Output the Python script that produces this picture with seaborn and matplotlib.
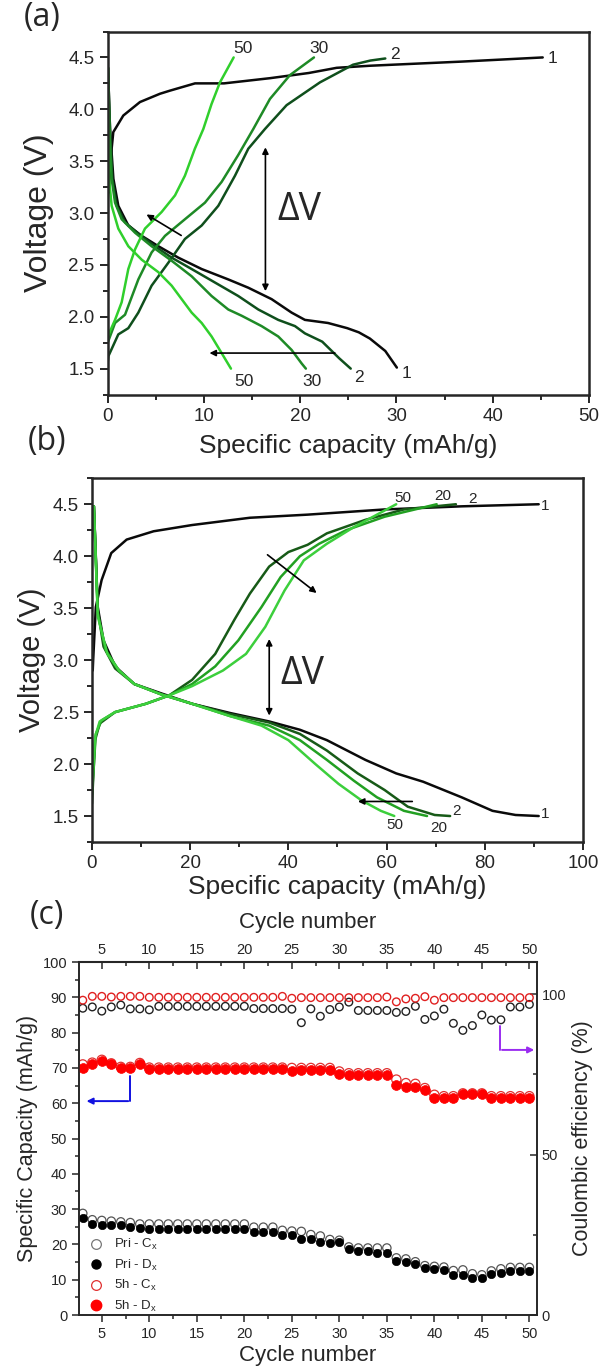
import matplotlib
matplotlib.use("Agg")
import matplotlib.pyplot as plt
import seaborn as sns
from matplotlib.ticker import MultipleLocator
from matplotlib.lines import Line2D

# ---------------------------
# Data: panel (a), charge / discharge curves (capacity mAh/g, voltage V)
# ---------------------------
A1_CH_X = [0.15, 0.3, 0.6, 1.64, 3.37, 5.45, 6.49, 9.09, 12.1, 16.87, 20.9, 23.8, 27.26, 36.8, 45.2]
A1_CH_Y = [3.2, 3.5, 3.78, 3.94, 4.07, 4.15, 4.18, 4.25, 4.25, 4.30, 4.35, 4.40, 4.42, 4.46, 4.50]
A1_DC_X = [0.05, 0.26, 0.61, 1.12, 2.16, 3.55, 5.28, 7.35, 9.78, 12.54, 14.62, 17.04, 19.12, 20.5,
           22.9, 24.9, 26.1, 27.25, 28.85, 30.05]
A1_DC_Y = [4.40, 3.81, 3.33, 3.07, 2.88, 2.78, 2.68, 2.57, 2.46, 2.36, 2.28, 2.17, 2.04, 1.97,
           1.94, 1.89, 1.85, 1.79, 1.67, 1.51]

A2_CH_X = [0.0, 0.09, 1.12, 2.16, 3.2, 4.58, 6.31, 8.04, 9.78, 11.51, 13.24, 14.62, 16.35, 18.6,
           22.07, 25.5, 27.3, 28.85]
A2_CH_Y = [1.54, 1.62, 1.83, 1.89, 2.04, 2.30, 2.52, 2.75, 2.88, 3.07, 3.36, 3.62, 3.81, 4.04,
           4.26, 4.43, 4.47, 4.49]
A2_DC_X = [0.05, 0.26, 0.5, 0.95, 1.82, 3.2, 4.93, 6.66, 8.74, 11.16, 13.58, 15.66, 17.73, 19.47,
           20.5, 22.3, 24.06, 25.26]
A2_DC_Y = [4.40, 3.81, 3.33, 3.07, 2.91, 2.80, 2.68, 2.57, 2.46, 2.33, 2.20, 2.07, 1.97, 1.91,
           1.84, 1.76, 1.60, 1.50]

A30_CH_X = [0.0, 0.02, 0.78, 1.82, 3.2, 4.58, 5.97, 8.04, 10.12, 11.85, 13.58, 15.14, 16.87,
            18.95, 21.44]
A30_CH_Y = [1.67, 1.75, 1.94, 2.02, 2.36, 2.62, 2.78, 2.94, 3.10, 3.30, 3.56, 3.81, 4.10, 4.33,
            4.50]
A30_DC_X = [0.05, 0.2, 0.43, 0.78, 1.47, 2.86, 4.58, 6.66, 8.74, 10.81, 12.54, 13.93, 16.0, 17.73,
            19.12, 20.16, 20.6]
A30_DC_Y = [4.40, 3.81, 3.33, 3.10, 2.94, 2.81, 2.68, 2.54, 2.39, 2.20, 2.07, 2.01, 1.91, 1.81,
            1.68, 1.55, 1.50]

A50_CH_X = [0.0, 0.02, 0.78, 1.47, 2.16, 2.86, 3.89, 5.62, 7.01, 8.04, 9.07, 9.95, 10.8, 11.68,
            13.1]
A50_CH_Y = [1.73, 1.81, 1.97, 2.14, 2.46, 2.65, 2.85, 3.01, 3.17, 3.36, 3.62, 3.81, 4.05, 4.26,
            4.50]
A50_DC_X = [0.05, 0.1, 0.16, 0.43, 1.12, 2.16, 3.55, 5.28, 6.66, 7.7, 8.74, 9.78, 10.81, 11.85,
            12.82]
A50_DC_Y = [4.40, 3.81, 3.33, 3.07, 2.85, 2.68, 2.55, 2.43, 2.30, 2.17, 2.04, 1.94, 1.81, 1.65,
            1.50]

# ---------------------------
# Data: panel (b)
# ---------------------------
B1_CH_X = [0.15, 0.24, 0.78, 1.96, 3.92, 7.06, 12.55, 20.39, 32.16, 43.92, 59.61, 75.29, 90.98]
B1_CH_Y = [2.9, 3.00, 3.51, 3.77, 4.03, 4.16, 4.24, 4.30, 4.37, 4.40, 4.45, 4.48, 4.50]
B1_DC_X = [0.39, 1.18, 2.35, 4.71, 8.63, 14.12, 20.39, 28.24, 36.08, 42.35, 47.84, 55.69, 61.96,
           67.45, 75.29, 81.57, 86.27, 90.98]
B1_DC_Y = [4.48, 3.51, 3.19, 2.94, 2.77, 2.68, 2.58, 2.49, 2.41, 2.33, 2.23, 2.04, 1.91, 1.83,
           1.68, 1.55, 1.51, 1.50]

B2_CH_X = [0.0, 0.63, 1.57, 4.71, 10.98, 15.69, 20.39, 25.10, 29.02, 32.16, 36.08, 40.0, 43.92,
           47.84, 55.69, 63.53, 74.12]
B2_CH_Y = [1.62, 2.23, 2.39, 2.50, 2.58, 2.66, 2.81, 3.06, 3.39, 3.64, 3.90, 4.04, 4.11, 4.22,
           4.35, 4.45, 4.50]
B2_DC_X = [0.39, 1.18, 2.35, 4.71, 8.63, 14.12, 20.39, 28.24, 36.08, 42.35, 47.84, 54.12, 59.61,
           64.31, 69.80, 72.94]
B2_DC_Y = [4.48, 3.48, 3.13, 2.92, 2.77, 2.67, 2.58, 2.48, 2.40, 2.29, 2.13, 1.91, 1.75, 1.59,
           1.51, 1.50]

B20_CH_X = [0.0, 0.78, 1.96, 4.71, 10.98, 15.69, 20.39, 25.10, 29.80, 34.51, 38.43, 42.35, 46.27,
            51.76, 59.61, 70.20]
B20_CH_Y = [1.71, 2.29, 2.42, 2.50, 2.58, 2.66, 2.77, 2.94, 3.19, 3.51, 3.80, 4.00, 4.12, 4.25,
            4.38, 4.50]
B20_DC_X = [0.39, 1.18, 2.75, 5.49, 8.63, 14.12, 20.39, 28.24, 36.08, 42.35, 47.84, 53.33, 58.04,
            63.53, 68.24]
B20_DC_Y = [4.48, 3.45, 3.10, 2.90, 2.77, 2.67, 2.58, 2.46, 2.37, 2.23, 2.04, 1.84, 1.68, 1.55,
            1.50]

B50_CH_X = [0.0, 0.63, 1.57, 4.71, 10.98, 15.69, 20.39, 26.67, 31.37, 35.29, 39.22, 43.14, 47.84,
            53.33, 61.96]
B50_CH_Y = [1.75, 2.26, 2.41, 2.50, 2.58, 2.66, 2.75, 2.90, 3.06, 3.32, 3.67, 3.96, 4.12, 4.28,
            4.50]
B50_DC_X = [0.39, 1.18, 3.14, 5.49, 8.63, 14.12, 20.39, 28.24, 34.51, 40.0, 45.49, 50.2, 54.9,
            58.82, 61.57]
B50_DC_Y = [4.48, 3.42, 3.06, 2.90, 2.77, 2.67, 2.58, 2.46, 2.37, 2.23, 2.00, 1.81, 1.65, 1.55,
            1.50]

# ---------------------------
# Data: panel (c), cycle 3..50
# ---------------------------
CYCLES = list(range(3, 51))
PRI_C = [28.8, 27.0, 26.8, 26.6, 26.4, 26.2, 25.8, 25.8, 25.8, 25.8, 25.8, 25.8, 25.8, 25.8,
         25.8, 25.8, 25.8, 25.8, 24.9, 24.9, 24.9, 24.0, 23.8, 23.7, 22.8, 22.4, 21.4, 21.2,
         19.3, 19.0, 19.0, 19.0, 19.0, 16.2, 15.9, 15.1, 14.0, 13.8, 13.6, 12.6, 12.8, 11.7,
         11.4, 12.5, 13.1, 13.5, 13.5, 13.5]
PRI_D = [27.4, 25.9, 25.4, 25.4, 25.4, 25.0, 24.7, 24.5, 24.5, 24.5, 24.5, 24.5, 24.5, 24.5,
         24.5, 24.5, 24.5, 24.5, 23.5, 23.5, 23.5, 22.8, 22.8, 21.6, 21.6, 20.8, 20.5, 20.6,
         18.7, 18.2, 18.2, 17.6, 17.6, 15.4, 15.1, 14.5, 13.2, 13.0, 12.9, 11.4, 11.4, 10.4,
         10.4, 11.6, 12.0, 12.6, 12.6, 12.6]
H5_C = [71.0, 71.5, 72.3, 71.3, 70.3, 70.3, 71.4, 70.1, 70.1, 70.1, 70.1, 70.1, 70.1, 70.1,
        70.1, 70.1, 70.1, 70.1, 70.1, 70.1, 70.1, 70.1, 70.0, 70.0, 70.0, 70.0, 70.0, 69.0,
        68.5, 68.5, 68.5, 68.5, 68.5, 66.7, 65.7, 65.5, 64.3, 62.4, 62.0, 62.0, 62.8, 62.8,
        62.8, 62.0, 62.0, 62.0, 62.0, 62.0]
H5_D = [70.0, 71.2, 72.1, 71.0, 70.0, 70.0, 71.2, 69.8, 69.8, 69.8, 69.8, 69.8, 69.8, 69.8,
        69.8, 69.8, 69.8, 69.8, 69.8, 69.8, 69.8, 69.8, 69.2, 69.5, 69.5, 69.5, 69.5, 68.4,
        68.1, 68.1, 68.1, 68.1, 68.1, 65.3, 64.5, 64.5, 63.8, 61.5, 61.4, 61.4, 62.6, 62.6,
        62.6, 61.5, 61.5, 61.5, 61.5, 61.5]
# Coulombic efficiency (%)
PRI_CE = [95.6, 96.0, 94.7, 96.0, 96.6, 95.4, 95.4, 95.1, 96.2, 96.2, 96.2, 96.2, 96.2, 96.2,
          96.2, 96.2, 96.2, 96.2, 95.5, 95.5, 95.5, 95.5, 95.3, 91.1, 95.4, 93.1, 95.2, 96.0,
          97.5, 94.9, 94.9, 94.9, 94.9, 94.3, 94.6, 96.2, 92.1, 93.2, 95.3, 90.9, 88.7, 90.2,
          93.5, 91.9, 92.0, 96.0, 96.0, 96.8]
H5_CE = [98.1, 99.3, 99.3, 99.1, 99.3, 99.3, 99.3, 99.0, 99.0, 99.0, 99.0, 99.0, 99.0, 99.0,
         99.0, 99.0, 99.0, 99.0, 99.0, 99.0, 99.0, 99.3, 98.7, 98.9, 98.9, 98.9, 98.9, 98.9,
         98.9, 98.9, 98.9, 98.9, 99.1, 97.6, 98.5, 98.7, 99.2, 98.1, 98.9, 98.9, 98.9, 98.9,
         98.9, 98.9, 98.9, 98.9, 98.9, 98.9]

# ---------------------------
# Style
# ---------------------------
sns.set_style("ticks")
plt.rcParams["font.family"] = ["Liberation Sans", "DejaVu Sans"]
plt.rcParams["axes.linewidth"] = 1.5

BLACK = "#0a0a0a"
fig = plt.figure(figsize=(6.02, 13.7), dpi=100)


def curve(ax, xs, ys, color):
    sns.lineplot(x=xs, y=ys, ax=ax, sort=False, estimator=None, color=color, lw=1.8)


def voltage_axes(ax, xmax, xmajor):
    ax.set_xlim(0, xmax)
    ax.set_ylim(1.25, 4.75)
    ax.xaxis.set_major_locator(MultipleLocator(xmajor))
    ax.xaxis.set_minor_locator(MultipleLocator(xmajor / 2))
    ax.yaxis.set_major_locator(MultipleLocator(0.5))
    ax.yaxis.set_minor_locator(MultipleLocator(0.25))
    ax.set_yticks([1.5, 2.0, 2.5, 3.0, 3.5, 4.0, 4.5])
    ax.tick_params(which="both", direction="out", top=False, right=False,
                   labelsize=13.5, width=1.4)
    ax.tick_params(which="major", length=6)
    ax.tick_params(which="minor", length=3.5)
    for s in ax.spines.values():
        s.set_visible(True)
        s.set_linewidth(1.8)
    ax.set_xlabel("Specific capacity (mAh/g)", fontsize=19)


# ---------------------------
# Panel (a)
# ---------------------------
ax_a = fig.add_axes([0.1786, 0.7120, 0.7997, 0.2650])
curve(ax_a, A1_CH_X, A1_CH_Y, BLACK)
curve(ax_a, A1_DC_X, A1_DC_Y, BLACK)
curve(ax_a, A2_CH_X, A2_CH_Y, "#0f4f1c")
curve(ax_a, A2_DC_X, A2_DC_Y, "#0f4f1c")
curve(ax_a, A30_CH_X, A30_CH_Y, "#1e8a26")
curve(ax_a, A30_DC_X, A30_DC_Y, "#1e8a26")
curve(ax_a, A50_CH_X, A50_CH_Y, "#30cf2c")
curve(ax_a, A50_DC_X, A50_DC_Y, "#30cf2c")
voltage_axes(ax_a, 50, 10)
ax_a.set_ylabel("Voltage (V)", fontsize=23, labelpad=10)
ax_a.xaxis.labelpad = 7

for txt, x, y in [("50", 13.1, 4.59), ("30", 21.0, 4.59), ("2", 29.3, 4.53), ("1", 45.7, 4.49),
                  ("50", 13.2, 1.38), ("30", 20.2, 1.38), ("2", 25.6, 1.41), ("1", 30.5, 1.45)]:
    ax_a.text(x, y, txt, fontsize=12.5, ha="left", va="center")
ax_a.annotate("", xy=(16.4, 3.66), xytext=(16.4, 2.22),
              arrowprops=dict(arrowstyle="<|-|>", color="k", lw=1.2, mutation_scale=9))
ax_a.annotate("", xy=(3.8, 3.0), xytext=(7.9, 2.77),
              arrowprops=dict(arrowstyle="-|>", color="k", lw=1.2, mutation_scale=9))
ax_a.annotate("", xy=(10.3, 1.65), xytext=(23.9, 1.65),
              arrowprops=dict(arrowstyle="-|>", color="k", lw=1.2, mutation_scale=9))
ax_a.text(17.6, 3.03, "ΔV", fontsize=27, family=["Open Sans", "DejaVu Sans"],
          ha="left", va="center")

# ---------------------------
# Panel (b)
# ---------------------------
ax_b = fig.add_axes([0.1528, 0.3854, 0.8156, 0.2655])
curve(ax_b, B1_CH_X, B1_CH_Y, BLACK)
curve(ax_b, B1_DC_X, B1_DC_Y, BLACK)
curve(ax_b, B2_CH_X, B2_CH_Y, "#175a17")
curve(ax_b, B2_DC_X, B2_DC_Y, "#175a17")
curve(ax_b, B20_CH_X, B20_CH_Y, "#22a022")
curve(ax_b, B20_DC_X, B20_DC_Y, "#22a022")
curve(ax_b, B50_CH_X, B50_CH_Y, "#3ccf3c")
curve(ax_b, B50_DC_X, B50_DC_Y, "#3ccf3c")
voltage_axes(ax_b, 100, 20)
ax_b.set_ylabel("Voltage (V)", fontsize=21, labelpad=5)
ax_b.xaxis.labelpad = 2

for txt, x, y in [("50", 61.6, 4.56), ("20", 69.8, 4.58), ("2", 76.6, 4.55), ("1", 91.4, 4.48),
                  ("1", 91.4, 1.52), ("2", 73.3, 1.55), ("20", 68.8, 1.38), ("50", 60.0, 1.41)]:
    ax_b.text(x, y, txt, fontsize=11, ha="left", va="center")
ax_b.annotate("", xy=(36.1, 3.23), xytext=(36.1, 2.44),
              arrowprops=dict(arrowstyle="<|-|>", color="k", lw=1.2, mutation_scale=9))
ax_b.annotate("", xy=(46.2, 3.63), xytext=(35.3, 4.03),
              arrowprops=dict(arrowstyle="-|>", color="k", lw=1.2, mutation_scale=9))
ax_b.annotate("", xy=(53.6, 1.64), xytext=(65.8, 1.64),
              arrowprops=dict(arrowstyle="-|>", color="k", lw=1.2, mutation_scale=9))
ax_b.text(38.3, 2.87, "ΔV", fontsize=27, family=["Open Sans", "DejaVu Sans"],
          ha="left", va="center")

# ---------------------------
# Panel (c)
# ---------------------------
ax_c = fig.add_axes([0.1312, 0.0401, 0.7608, 0.2577])
sns.scatterplot(x=CYCLES, y=PRI_C, ax=ax_c, marker="o", s=36, facecolor="none",
                edgecolor="#555555", linewidth=0.9, zorder=3)
sns.scatterplot(x=CYCLES, y=PRI_D, ax=ax_c, marker="o", s=36, color="black",
                edgecolor="black", linewidth=0.5, zorder=4)
sns.scatterplot(x=CYCLES, y=H5_C, ax=ax_c, marker="o", s=44, facecolor="none",
                edgecolor="#e03030", linewidth=0.9, zorder=3)
sns.scatterplot(x=CYCLES, y=H5_D, ax=ax_c, marker="o", s=50, color="#ff0000",
                edgecolor="#ff0000", linewidth=0.5, zorder=4)
ax_c.set_xlim(2.6, 50.8)
ax_c.set_ylim(0, 100)
ax_c.xaxis.set_major_locator(MultipleLocator(5))
ax_c.xaxis.set_minor_locator(MultipleLocator(2.5))
ax_c.yaxis.set_major_locator(MultipleLocator(10))
ax_c.yaxis.set_minor_locator(MultipleLocator(5))
ax_c.tick_params(which="both", direction="out", labelsize=10.5, width=1.1, top=False, right=False)
ax_c.tick_params(which="major", length=5)
ax_c.tick_params(which="minor", length=3)
for s in ax_c.spines.values():
    s.set_linewidth(1.2)
ax_c.set_xlabel("Cycle number", fontsize=16, labelpad=3)
ax_c.set_ylabel("Specific Capacity (mAh/g)", fontsize=15.5, labelpad=3)

ax_r = ax_c.twinx()
sns.scatterplot(x=CYCLES, y=PRI_CE, ax=ax_r, marker="o", s=30, facecolor="none",
                edgecolor="#222222", linewidth=1.0)
sns.scatterplot(x=CYCLES, y=H5_CE, ax=ax_r, marker="o", s=30, facecolor="none",
                edgecolor="#e02020", linewidth=1.0)
ax_r.set_ylim(0, 110)
ax_r.set_yticks([0, 50, 100])
ax_r.yaxis.set_minor_locator(MultipleLocator(25))
ax_r.tick_params(which="both", direction="in", labelsize=10.5, width=1.1)
ax_r.tick_params(which="major", length=5)
ax_r.tick_params(which="minor", length=3)
ax_r.set_ylabel("Coulombic efficiency (%)", fontsize=15.5, labelpad=4)
for s in ax_r.spines.values():
    s.set_linewidth(1.2)

sec = ax_c.secondary_xaxis("top")
sec.xaxis.set_major_locator(MultipleLocator(5))
sec.xaxis.set_minor_locator(MultipleLocator(2.5))
sec.tick_params(which="both", direction="in", labelsize=10.5, width=1.1)
sec.tick_params(which="major", length=5)
sec.tick_params(which="minor", length=3)
sec.set_xlabel("Cycle number", fontsize=16, labelpad=11)

# guide arrows
ax_c.plot([8.0, 8.0], [67.8, 60.6], color="#1010e0", lw=1.4)
ax_c.annotate("", xy=(3.1, 60.6), xytext=(8.07, 60.6),
              arrowprops=dict(arrowstyle="-|>", color="#1010e0", lw=1.4, mutation_scale=9))
ax_c.plot([46.9, 46.9], [81.8, 75.1], color="#9a2cf0", lw=1.4)
ax_c.annotate("", xy=(50.8, 75.1), xytext=(46.83, 75.1),
              arrowprops=dict(arrowstyle="-|>", color="#9a2cf0", lw=1.4, mutation_scale=9))

handles = [
    Line2D([], [], ls="", marker="o", ms=7, mfc="none", mec="#777777", mew=0.9),
    Line2D([], [], ls="", marker="o", ms=6.5, mfc="black", mec="black"),
    Line2D([], [], ls="", marker="o", ms=7, mfc="none", mec="#e03030", mew=0.9),
    Line2D([], [], ls="", marker="o", ms=7.5, mfc="#ff0000", mec="#ff0000"),
]
labels = ["Pri - C$_\\mathregular{x}$", "Pri - D$_\\mathregular{x}$",
          "5h - C$_\\mathregular{x}$", "5h - D$_\\mathregular{x}$"]
ax_c.legend(handles, labels, loc="upper left", bbox_to_anchor=(0.012, 0.235),
            borderaxespad=0, frameon=False, fontsize=9.5, handlelength=1.0,
            handletextpad=0.8, labelspacing=0.4)

# panel letters
for letter, x, y in [("(a)", 0.040, 0.999), ("(b)", 0.046, 0.690), ("(c)", 0.050, 0.344)]:
    fig.text(x, y, letter, fontsize=23, family=["Open Sans", "DejaVu Sans"], va="top", ha="left")

fig.savefig("out.png", dpi=100)
